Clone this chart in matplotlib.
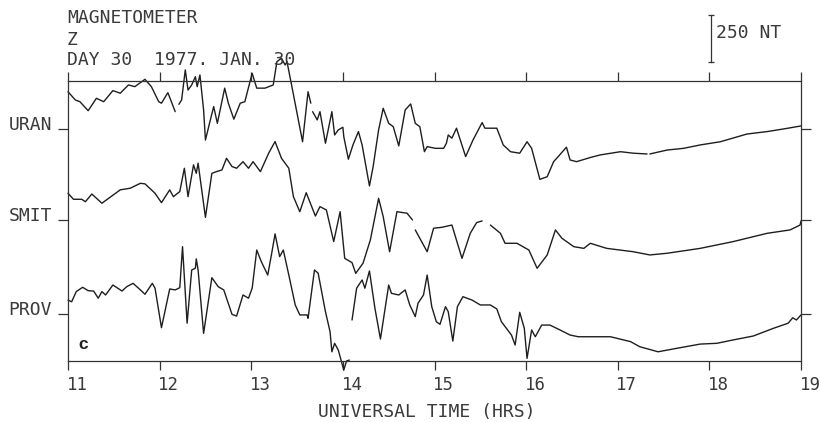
import numpy as np
import matplotlib.pyplot as plt
from matplotlib.transforms import blended_transform_factory

nan = np.nan

# Universal time (hours) and Z deflection (nT)
uran_t = [11.00, 11.08, 11.13, 11.22, 11.31, 11.39, 11.49, 11.57, 11.66, 11.73, 11.84, 11.91,
          11.99, 12.02, 12.09, 12.17, 12.19,
          12.21, 12.24, 12.28, 12.31, 12.35, 12.39, 12.41, 12.44, 12.48, 12.50, 12.54, 12.59,
          12.63, 12.71, 12.75, 12.81, 12.88, 12.93, 13.01, 13.06, 13.15, 13.24, 13.28, 13.33,
          13.37, 13.39, 13.44, 13.56, 13.62, 13.65, 13.66,
          13.67, 13.72, 13.75, 13.81, 13.88, 13.91, 13.95, 14.00, 14.01, 14.06, 14.11, 14.17,
          14.21, 14.29, 14.33, 14.39, 14.44, 14.50, 14.55, 14.61, 14.68, 14.74, 14.79, 14.84,
          14.89, 14.92, 15.01, 15.10, 15.13, 15.15, 15.19, 15.24, 15.34, 15.42, 15.52, 15.55,
          15.68, 15.75, 15.83, 15.93, 16.01, 16.06, 16.15, 16.23, 16.30, 16.35, 16.44, 16.48,
          16.55, 16.70, 16.81, 17.03, 17.17, 17.32, 17.33,
          17.35, 17.54, 17.72, 17.90, 18.12, 18.41, 18.63, 18.81, 19.00]
uran_nt = [198, 154, 145, 97, 163, 145, 204, 190, 234, 225, 264, 225,
           145, 137, 193, 92, nan,
           131, 154, 314, 207, 234, 278, 225, 287, 101, -59, 21, 119,
           30, 217, 137, 52, 137, 145, 296, 217, 217, 234, 358, 376,
           340, 358, 234, -68, 198, 137, nan,
           92, 48, 92, -76, 92, -32, -5, 9, -41, -161, -85, -14,
           -85, -303, -201, -5, 110, 30, 12, -90, 101, 133, 30, 12,
           -121, -94, -103, -103, -76, -32, -49, 4, -147, -59, 34, 4,
           4, -85, -121, -129, -68, -103, -268, -254, -174, -147, -97, -165,
           -174, -152, -138, -121, -129, -133, nan,
           -133, -112, -103, -85, -68, -27, -14, 0, 16]

smit_t = [11.00, 11.06, 11.15, 11.19, 11.26, 11.37, 11.46, 11.57, 11.68, 11.79, 11.84, 11.95,
          12.02, 12.11, 12.15, 12.22, 12.27, 12.31, 12.37, 12.40, 12.42, 12.50, 12.57, 12.62,
          12.68, 12.73, 12.79, 12.84, 12.91, 12.97, 13.02, 13.10, 13.19, 13.26, 13.33, 13.41,
          13.46, 13.53, 13.60, 13.70, 13.75, 13.82, 13.90, 13.97, 14.02, 14.10, 14.14, 14.22,
          14.30, 14.39, 14.44, 14.51, 14.59, 14.70, 14.76, 14.77,
          14.79, 14.92, 14.99, 15.08, 15.19, 15.30, 15.39, 15.46, 15.52, 15.55,
          15.61, 15.72, 15.77, 15.90, 16.03, 16.12, 16.23, 16.32, 16.39, 16.52, 16.63, 16.70,
          16.88, 17.17, 17.35, 17.54, 17.90, 18.26, 18.63, 18.88, 18.99, 19.00]
smit_nt = [142, 110, 110, 97, 138, 89, 121, 160, 169, 195, 192, 142,
           92, 160, 124, 151, 275, 124, 293, 248, 302, 14, 248, 257,
           266, 328, 284, 275, 310, 275, 310, 257, 355, 417, 328, 275,
           124, 44, 145, 21, 71, 53, -115, 44, -204, -227, -284, -230,
           -106, 115, 18, -169, 44, 36, 0, nan,
           -53, -169, -44, -39, -27, -204, -71, -14, -5, nan,
           -27, -71, -124, -124, -160, -257, -186, -53, -97, -142, -151, -124,
           -151, -169, -186, -177, -151, -115, -71, -53, -27, -5]

prov_t = [11.00, 11.04, 11.09, 11.16, 11.22, 11.28, 11.33, 11.37, 11.41, 11.49, 11.59, 11.64,
          11.71, 11.77, 11.84, 11.92, 11.95, 12.02, 12.11, 12.17, 12.22, 12.25, 12.30, 12.35,
          12.39, 12.40, 12.42, 12.48, 12.57, 12.64, 12.70, 12.79, 12.84, 12.91, 12.97, 13.01,
          13.06, 13.11, 13.18, 13.22, 13.26, 13.31, 13.35, 13.41, 13.48, 13.53, 13.61, 13.62,
          13.69, 13.73, 13.81, 13.86, 13.88, 13.91, 13.95, 14.01, 14.04, 14.07, 14.08,
          14.10, 14.15, 14.21, 14.24, 14.29, 14.35, 14.41, 14.50, 14.53, 14.61, 14.68, 14.73,
          14.79, 14.82, 14.88, 14.92, 14.97, 15.02, 15.06, 15.12, 15.15, 15.20, 15.25, 15.31,
          15.41, 15.50, 15.61, 15.68, 15.73, 15.84, 15.88, 15.93, 15.98, 16.01, 16.06, 16.10,
          16.17, 16.26, 16.37, 16.48, 16.57, 16.70, 16.92, 17.14, 17.24, 17.44, 17.65, 17.90,
          18.08, 18.26, 18.48, 18.70, 18.86, 18.91, 18.95, 19.00]
prov_nt = [74, 65, 119, 142, 124, 122, 84, 119, 101, 154, 122, 145,
           163, 137, 105, 163, 137, -73, 133, 128, 140, 358, -49, 234,
           243, 293, 234, -103, 193, 145, 128, -2, -11, 101, 84, 137,
           340, 278, 207, 314, 426, 305, 340, 207, 48, -5, -5, -23,
           234, 217, 12, -94, -201, -156, -192, -298, -250, -245, nan,
           -32, 137, 181, 137, 229, 30, -133, 154, 110, 101, 128, 48,
           -14, 57, 101, 207, 39, -41, -55, 39, 12, -144, 39, 92,
           74, 48, 48, 27, -41, -112, -165, 9, -76, -236, -85, -121,
           -59, -59, -85, -112, -121, -121, -121, -147, -174, -201, -182, -160,
           -156, -138, -117, -76, -49, -20, -32, -5]

stations = ['URAN', 'SMIT', 'PROV']
offsets = [0, -484, -984]
hours = list(range(11, 20))

ink = '#1e1e1e'
txt = '#3a3a3a'
fs = 13
plt.rcParams['font.family'] = ['DejaVu Sans Mono', 'DejaVu Sans']

fig = plt.figure(figsize=(8.21, 4.22), dpi=100)
ax = fig.add_axes([68 / 821, 1 - 361 / 422, 733 / 821, 280 / 422])

for t, v, off in zip([uran_t, smit_t, prov_t], [uran_nt, smit_nt, prov_nt], offsets):
    ax.plot(t, np.array(v, dtype=float) + off, color=ink, lw=1.0, clip_on=False,
            solid_joinstyle='round', solid_capstyle='round')

ax.set_xlim(11, 19)
ax.set_ylim(-1234, 255)

for s in ax.spines.values():
    s.set_color('#333333')
    s.set_linewidth(0.9)

ax.set_xticks(hours)
ax.set_xticklabels([])
ax.tick_params(axis='x', which='both', top=True, bottom=True, direction='out',
               length=6.5, width=0.9, color='#333333')
ax.set_yticks(offsets)
ax.set_yticklabels([])
ax.tick_params(axis='y', left=True, right=True, direction='out', length=7,
               width=0.9, color='#333333')

# hour labels start at their tick, like the plotter output
xtr = blended_transform_factory(ax.transData, ax.transAxes)
for h in hours:
    ax.text(h - 0.015, -29 / 280, str(h), transform=xtr, ha='left', va='baseline',
            fontsize=12.5, color=txt)

# station names next to baseline ticks
ytr = blended_transform_factory(ax.transAxes, ax.transData)
for name, off in zip(stations, offsets):
    ax.text(-16 / 733, off - 5, name, transform=ytr, ha='right', va='baseline',
            fontsize=fs, color=txt)

# scale bar 250 nT
bx = (711 - 68) / 733
ax.plot([bx, bx], [356, 606], transform=ytr, color='#333333', lw=0.9, clip_on=False)
ax.plot([bx, bx], [356, 606], transform=ytr, color='#333333', ls='none',
        marker='_', ms=5, mew=0.9, clip_on=False)
ax.text((716 - 68) / 733, 484, '250 NT', transform=ytr, ha='left', va='baseline',
        fontsize=fs, color=txt)

# header
fig.text(67 / 821, 1 - 23 / 422, 'MAGNETOMETER', fontsize=fs, color=txt, va='baseline')
fig.text(67 / 821, 1 - 45 / 422, 'Z', fontsize=fs, color=txt, va='baseline')
fig.text(67 / 821, 1 - 65 / 422, 'DAY 30  1977. JAN. 30', fontsize=fs, color=txt,
         va='baseline')

ax.text(10 / 733, 12 / 280, 'c', transform=ax.transAxes, family='Liberation Sans',
        fontweight='bold', fontsize=12.5, color='#222222', va='baseline')

fig.text(318 / 821, 1 - 417 / 422, 'UNIVERSAL TIME (HRS)', fontsize=fs, color=txt,
         va='baseline')

fig.savefig('out.png', dpi=100)
